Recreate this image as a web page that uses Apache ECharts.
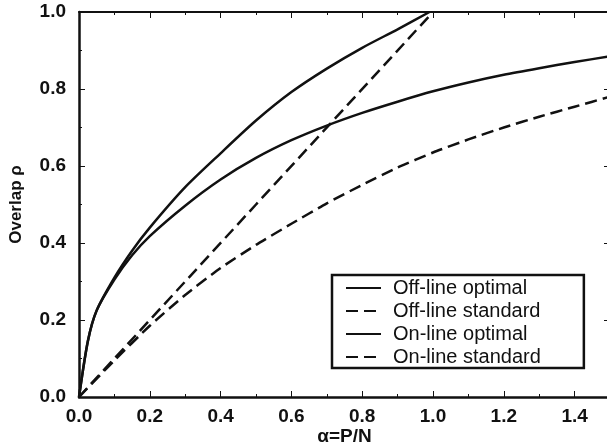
<!DOCTYPE html>
<html>
<head>
<meta charset="utf-8">
<script src="https://cdn.jsdelivr.net/npm/echarts@6/dist/echarts.min.js"></script>
<style>
  html, body { margin: 0; padding: 0; background: #fff; }
  #chart { width: 607px; height: 448px; }
</style>
</head>
<body>
<div id="chart"></div>
<script>
// values: [alpha, overlap]
const offlineOptimal = [[0,0],[0.025,0.145],[0.05,0.225],[0.1,0.31],[0.15,0.38],[0.2,0.44],[0.3,0.545],
  [0.4,0.633],[0.5,0.718],[0.6,0.792],[0.7,0.853],[0.8,0.907],[0.9,0.955],[0.99,1.0]]
const offlineStandard = [[0,0],[1.0,1.0]]
const onlineOptimal = [[0,0],[0.025,0.145],[0.05,0.225],[0.1,0.305],[0.15,0.368],[0.2,0.418],[0.3,0.497],
  [0.4,0.565],[0.5,0.621],[0.6,0.667],[0.7,0.705],[0.8,0.738],[0.9,0.767],[1.0,0.794],[1.1,0.817],
  [1.2,0.837],[1.3,0.854],[1.4,0.870],[1.5,0.885]]
const onlineStandard = [[0,0],[0.1,0.095],[0.2,0.185],[0.3,0.265],[0.4,0.335],[0.5,0.395],[0.6,0.45],
  [0.7,0.503],[0.8,0.551],[0.9,0.596],[1.0,0.635],[1.1,0.669],[1.2,0.70],[1.3,0.728],[1.4,0.754],[1.5,0.78]]
const seriesNames = ['Off-line optimal', 'Off-line standard', 'On-line optimal', 'On-line standard']

const font = 'Liberation Sans, Arial, Helvetica, sans-serif'
const ink = '#111'

const chart = echarts.init(document.getElementById('chart'))

const baseAxis = {
  type: 'value', min: 0, interval: 0.2,
  axisLine: { show: true, onZero: false, lineStyle: { color: ink, width: 2.5 } },
  axisTick: { show: true, inside: true, length: 6, lineStyle: { color: ink, width: 1 } },
  minorTick: { show: true, splitNumber: 2, length: 3, lineStyle: { color: ink, width: 1 } },
  splitLine: { show: false },
  axisLabel: { color: ink, fontFamily: font, fontWeight: 'bold', fontSize: 19, formatter: v => v.toFixed(1) }
}

const line = (name, data, dashed) => ({
  name, type: 'line', data, symbol: 'none', silent: true,
  smooth: dashed ? 0.2 : 0.25,
  itemStyle: { color: ink },
  lineStyle: { color: ink, width: 2.5, type: dashed ? [12, 6] : 'solid' },
  xAxisIndex: 0, yAxisIndex: 0
})

chart.setOption({
  animation: false,
  backgroundColor: '#fff',
  grid: { left: 79, top: 12, width: 531, height: 385, outerBoundsMode: 'none', containLabel: false },
  xAxis: [
    { ...baseAxis, max: 1.5, position: 'bottom',
      axisLabel: { ...baseAxis.axisLabel, margin: 10, showMaxLabel: false },
      name: 'α=P/N', nameLocation: 'middle', nameGap: 30, nameMoveOverlap: false,
      nameTextStyle: { color: ink, fontFamily: font, fontWeight: 'bold', fontSize: 19 } },
    { ...baseAxis, max: 1.5, position: 'top', axisLabel: { show: false },
      axisLine: { show: true, onZero: false, lineStyle: { color: ink, width: 2 } } }
  ],
  yAxis: [
    { ...baseAxis, max: 1, position: 'left',
      axisLabel: { ...baseAxis.axisLabel, margin: 13 },
      name: 'Overlap ρ', nameLocation: 'middle', nameGap: 54, nameMoveOverlap: false,
      nameTextStyle: { color: ink, fontFamily: font, fontWeight: 'bold', fontSize: 17 } },
    { ...baseAxis, max: 1, position: 'right', axisLabel: { show: false } }
  ],
  legend: {
    orient: 'vertical', left: 332, top: 275,
    data: seriesNames,
    itemWidth: 35, itemHeight: 14, itemGap: 3,
    padding: [3, 43, 1, 13],
    borderColor: ink, borderWidth: 2.5, borderRadius: 0,
    backgroundColor: '#fff',
    selectedMode: false,
    itemStyle: { opacity: 0 },
    textStyle: { color: ink, fontFamily: font, fontSize: 20, padding: [0, 0, 0, 7] }
  },
  series: [
    line(seriesNames[0], offlineOptimal, false),
    line(seriesNames[1], offlineStandard, true),
    line(seriesNames[2], onlineOptimal, false),
    line(seriesNames[3], onlineStandard, true)
  ]
})
</script>
</body>
</html>
